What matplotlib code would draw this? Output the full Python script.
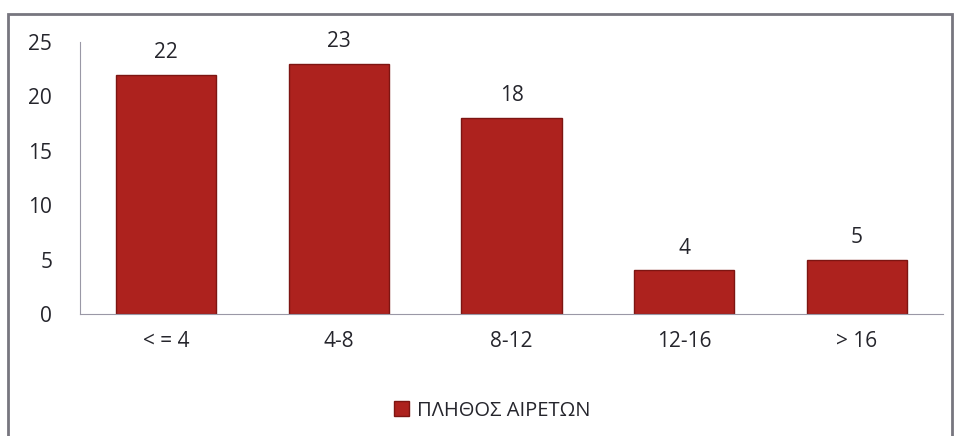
import matplotlib
matplotlib.use("Agg")
import matplotlib.pyplot as plt
from matplotlib.patches import Rectangle, Patch

categories = ["< = 4", "4-8", "8-12", "12-16", "> 16"]
values = [22, 23, 18, 4, 5]
series_name = "ΠΛΗΘΟΣ ΑΙΡΕΤΩΝ"

plt.rcParams["font.family"] = ["Open Sans", "DejaVu Sans"]
bar_color = "#ad221e"
text_color = "#25252c"

fig = plt.figure(figsize=(9.61, 4.36), dpi=100)
fig.patch.set_facecolor("white")

# outer frame of the chart
fig.add_artist(Rectangle((8 / 961, -0.01), 944 / 961, 1 - 14 / 436 + 0.01,
                         transform=fig.transFigure, fill=False,
                         edgecolor="#77767f", linewidth=2))

ax = fig.add_axes([80 / 961, 122 / 436, 863 / 961, 272 / 436])
x = range(len(categories))
bars = ax.bar(x, values, width=0.58, color=bar_color,
              edgecolor="#7d1512", linewidth=1.0, zorder=2)
for b, v in zip(bars, values):
    ax.text(b.get_x() + b.get_width() / 2, v + 1.1, str(v),
            ha="center", va="bottom", fontsize=15, color=text_color)

ax.set_ylim(0, 25)
ax.set_xlim(-0.5, len(categories) - 0.5)
ax.set_yticks([0, 5, 10, 15, 20, 25])
ax.set_xticks(list(x))
ax.set_xticklabels(categories)
ax.tick_params(axis="y", length=0, labelsize=15, pad=20, labelcolor=text_color)
ax.tick_params(axis="x", length=0, labelsize=15, pad=12, labelcolor=text_color)
for s in ["top", "right"]:
    ax.spines[s].set_visible(False)
ax.spines["left"].set_color("#9a98a6")
ax.spines["bottom"].set_color("#9a98a6")

fig.legend(handles=[Patch(facecolor=bar_color, edgecolor="#7d1512")],
           labels=[series_name], loc="center", bbox_to_anchor=(0.512, 0.058),
           frameon=False, fontsize=14.5, handlelength=0.75, handleheight=0.75,
           handletextpad=0.4, labelcolor=text_color)

fig.savefig("out.png", dpi=100)
